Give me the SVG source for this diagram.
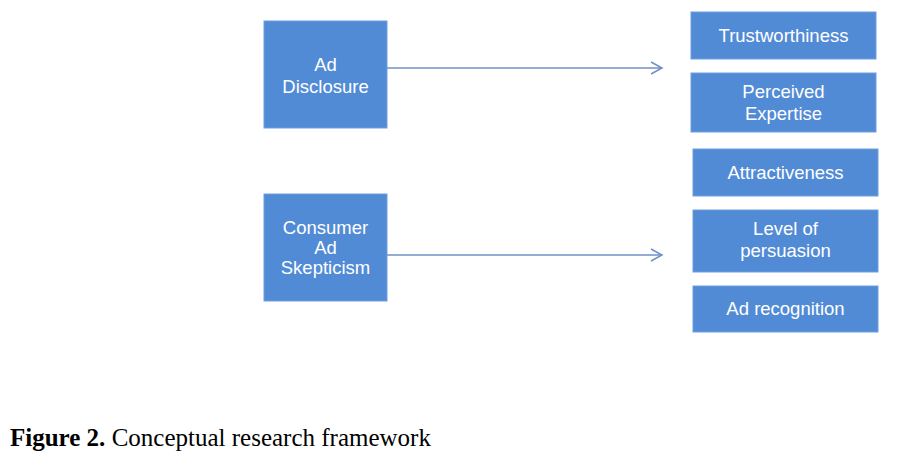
<svg xmlns="http://www.w3.org/2000/svg" width="897" height="456" viewBox="0 0 897 456">
<style>
.box{fill:#528bd5;stroke:#6f9ee0;stroke-width:1}
.t{font-family:"Liberation Sans",Arial,sans-serif;font-size:18.5px;fill:#ffffff;text-anchor:middle}
.edge{stroke:#6f90c4;stroke-width:1.5;fill:none}
.cap{font-family:"Liberation Serif","Times New Roman",serif;font-size:25px;fill:#000}
</style>
<defs>
<marker id="arr" markerWidth="14" markerHeight="14" refX="12" refY="7" orient="auto" markerUnits="userSpaceOnUse">
<path d="M1,1 L12,7 L1,13" fill="none" stroke="#6f90c4" stroke-width="1.5"/>
</marker>
</defs>
<rect width="897" height="456" fill="#ffffff"/>
<g id="edges">
<line class="edge" x1="387" y1="68" x2="662" y2="68" marker-end="url(#arr)"/>
<line class="edge" x1="387" y1="255" x2="662" y2="255" marker-end="url(#arr)"/>
</g>
<g id="ad-disclosure">
<rect class="box" x="264" y="21" width="123" height="107"/>
<text class="t" x="325.5" y="71">Ad</text>
<text class="t" x="325.5" y="93">Disclosure</text>
</g>
<g id="consumer-ad-skepticism">
<rect class="box" x="264" y="194" width="123" height="107"/>
<text class="t" x="325.5" y="234">Consumer</text>
<text class="t" x="325.5" y="254">Ad</text>
<text class="t" x="325.5" y="274">Skepticism</text>
</g>
<g id="trustworthiness">
<rect class="box" x="691" y="12" width="185" height="47"/>
<text class="t" x="783.5" y="42">Trustworthiness</text>
</g>
<g id="perceived-expertise">
<rect class="box" x="691" y="73" width="185" height="59"/>
<text class="t" x="783.5" y="98">Perceived</text>
<text class="t" x="783.5" y="120">Expertise</text>
</g>
<g id="attractiveness">
<rect class="box" x="693" y="149" width="185" height="47"/>
<text class="t" x="785.5" y="179">Attractiveness</text>
</g>
<g id="level-of-persuasion">
<rect class="box" x="693" y="210" width="185" height="62"/>
<text class="t" x="785.5" y="235">Level of</text>
<text class="t" x="785.5" y="257">persuasion</text>
</g>
<g id="ad-recognition">
<rect class="box" x="693" y="286" width="185" height="46"/>
<text class="t" x="785.5" y="315">Ad recognition</text>
</g>
<text class="cap" x="10" y="446"><tspan font-weight="bold">Figure 2.</tspan> Conceptual research framework</text>
</svg>
